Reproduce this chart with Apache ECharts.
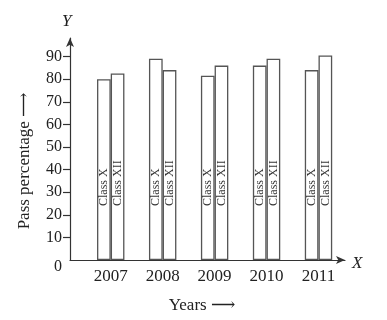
<!DOCTYPE html>
<html>
<head>
<meta charset="utf-8">
<script src="https://cdn.jsdelivr.net/npm/echarts@6/dist/echarts.min.js"></script>
<style>html,body{margin:0;padding:0;background:#fff;}#c{width:387px;height:320px;}</style>
</head>
<body>
<div id="c"></div>
<script>
var years = ['2007', '2008', '2009', '2010', '2011'];
var classX = [80, 89, 81.5, 86, 84];
var classXII = [82.5, 84, 86, 89, 90.5];
var yTicks = [10, 20, 30, 40, 50, 60, 70, 80, 90];
var yLabels = [0, 10, 20, 30, 40, 50, 60, 70, 80, 90];

var FONT = '"Liberation Serif", "DejaVu Serif", serif';
var chart = echarts.init(document.getElementById('c'), null, {renderer: 'canvas'});

function pairs(vals) {
  return years.map(function (y, i) { return [Number(y), vals[i]]; });
}
var labelOpt = {
  show: true,
  position: 'insideBottom',
  distance: 54,
  rotate: 90,
  align: 'left',
  verticalAlign: 'middle',
  fontFamily: FONT,
  fontSize: 12,
  color: '#333',
  formatter: function (p) { return p.seriesName; }
};
var barStyle = {color: '#fff', borderColor: '#555', borderWidth: 1.3};

chart.setOption({
  animation: false,
  grid: {left: 70, right: 42, top: 38, bottom: 60},
  xAxis: {
    type: 'value',
    min: 2006.216,
    max: 2011.51,
    name: 'Years \u27F6',
    nameLocation: 'middle',
    nameGap: 37,
    nameTextStyle: {fontFamily: FONT, fontSize: 17, color: '#222', padding: [0, 11, 0, 0]},
    splitLine: {show: false},
    axisLine: {show: true, symbol: ['none', 'arrow'], symbolSize: [6, 9], lineStyle: {color: '#333', width: 1.2}},
    axisTick: {show: false},
    axisLabel: {
      customValues: years.map(Number),
      margin: 8,
      fontFamily: FONT, fontSize: 17, color: '#222',
      formatter: function (v) { return String(v); }
    }
  },
  yAxis: {
    type: 'value',
    min: 0,
    max: 98.2,
    name: 'Pass percentage \u27F6',
    nameLocation: 'middle',
    nameRotate: 90,
    nameGap: 37,
    nameTextStyle: {fontFamily: FONT, fontSize: 17, color: '#222', padding: [0, 24, 0, 0]},
    splitLine: {show: false},
    axisLine: {show: true, symbol: ['none', 'arrow'], symbolSize: [6, 9], lineStyle: {color: '#333', width: 1.2}},
    axisTick: {show: true, customValues: yTicks, length: 7, lineStyle: {color: '#333', width: 1.2}},
    axisLabel: {
      customValues: yLabels,
      margin: 8,
      fontFamily: FONT, fontSize: 16, color: '#222',
      formatter: function (v) { return v === 0 ? '{z|0}' : String(v); },
      rich: {z: {fontFamily: FONT, fontSize: 16, color: '#222', padding: [14, 0, 0, 0]}}
    }
  },
  graphic: [
    {type: 'text', left: 62, top: 13, style: {text: 'Y', font: 'italic 17px ' + FONT, fill: '#222'}},
    {type: 'text', left: 352, top: 255, style: {text: 'X', font: 'italic 17px ' + FONT, fill: '#222'}}
  ],
  series: [
    {name: 'Class X', type: 'bar', barWidth: 13.7, barGap: '0%', data: pairs(classX), itemStyle: barStyle, label: labelOpt},
    {name: 'Class XII', type: 'bar', barWidth: 13.7, barGap: '0%', data: pairs(classXII), itemStyle: barStyle, label: labelOpt}
  ]
});
</script>
</body>
</html>
